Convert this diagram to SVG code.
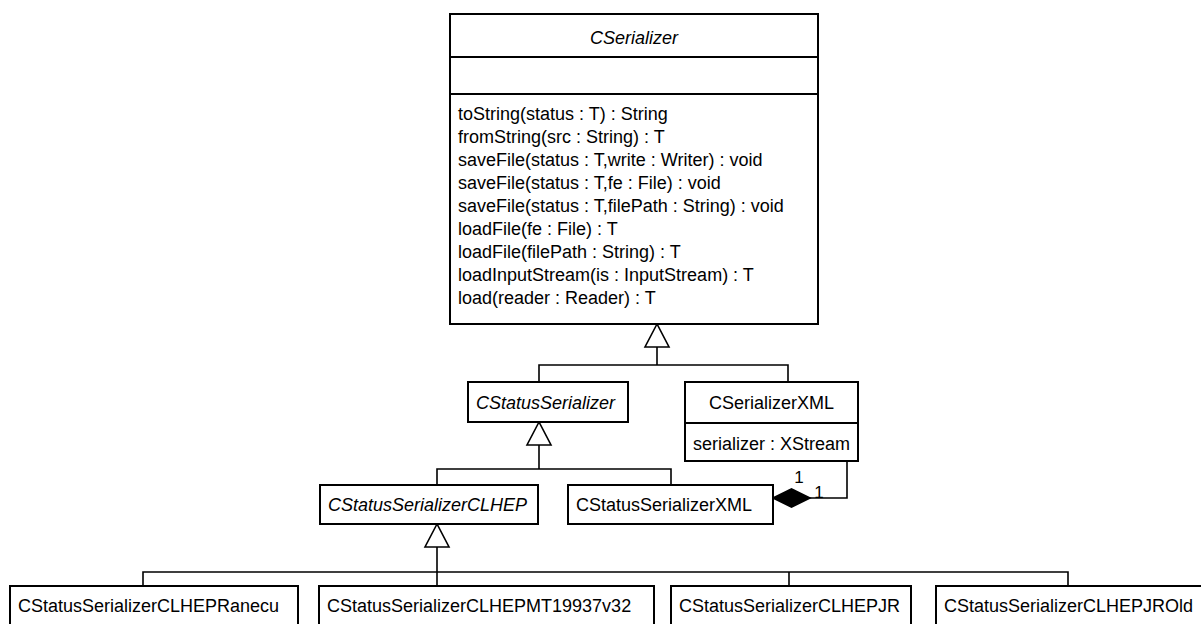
<svg xmlns="http://www.w3.org/2000/svg" width="1201" height="624" viewBox="0 0 1201 624">
<style>
.box{fill:#fff;stroke:#000;stroke-width:2}
.sep{stroke:#000;stroke-width:2}
.t{font-family:"Liberation Sans",Arial,Helvetica,sans-serif;font-size:18px;fill:#000}
.i{font-style:italic}
.m{text-anchor:middle}
.c{fill:none;stroke:#000;stroke-width:1.6}
.tri{fill:#fff;stroke:#000;stroke-width:1.6}
.dia{fill:#000;stroke:#000;stroke-width:1.6}
.lbl{font-family:"Liberation Sans",Arial,Helvetica,sans-serif;font-size:17px;fill:#000;text-anchor:middle}
</style>
<rect width="1201" height="624" fill="#fff"/>
<g id="connectors">
<path class="c" d="M539,382 V365 H788 V382 M657,365 V347"/>
<polygon class="tri" points="657,324 645,347 669,347"/>
<path class="c" d="M437,485 V469 H671 V485 M539,445 V469"/>
<polygon class="tri" points="539,422 527,445 551,445"/>
<path class="c" d="M143,586 V572 H1068 V586 M789,572 V586 M437,547 V586"/>
<polygon class="tri" points="437,524 425,547 449,547"/>
<path class="c" d="M810,498 H847 V461"/>
<polygon class="dia" points="773,498 791.5,489 810,498 791.5,507"/>
<text class="lbl" x="799" y="483">1</text>
<text class="lbl" x="819" y="498">1</text>
</g>
<g id="CSerializer">
<rect class="box" x="450" y="14" width="368" height="310"/>
<line class="sep" x1="450" y1="57" x2="818" y2="57"/>
<line class="sep" x1="450" y1="94" x2="818" y2="94"/>
<text class="t i m" x="634" y="44">CSerializer</text>
<text class="t" x="458" y="120">toString(status : T) : String</text>
<text class="t" x="458" y="143">fromString(src : String) : T</text>
<text class="t" x="458" y="166">saveFile(status : T,write : Writer) : void</text>
<text class="t" x="458" y="189">saveFile(status : T,fe : File) : void</text>
<text class="t" x="458" y="212">saveFile(status : T,filePath : String) : void</text>
<text class="t" x="458" y="235">loadFile(fe : File) : T</text>
<text class="t" x="458" y="258">loadFile(filePath : String) : T</text>
<text class="t" x="458" y="281">loadInputStream(is : InputStream) : T</text>
<text class="t" x="458" y="304">load(reader : Reader) : T</text>
</g>
<g id="CStatusSerializer">
<rect class="box" x="468" y="382" width="160" height="40"/>
<text class="t i" x="476" y="409">CStatusSerializer</text>
</g>
<g id="CSerializerXML">
<rect class="box" x="685" y="382" width="173" height="79"/>
<line class="sep" x1="685" y1="423" x2="858" y2="423"/>
<text class="t m" x="771.5" y="409">CSerializerXML</text>
<text class="t" x="693" y="450">serializer : XStream</text>
</g>
<g id="CStatusSerializerCLHEP">
<rect class="box" x="320" y="485" width="218" height="39"/>
<text class="t i" x="328" y="511">CStatusSerializerCLHEP</text>
</g>
<g id="CStatusSerializerXML">
<rect class="box" x="568" y="485" width="205" height="39"/>
<text class="t" x="576" y="511">CStatusSerializerXML</text>
</g>
<g id="CStatusSerializerCLHEPRanecu">
<rect class="box" x="10" y="586" width="288" height="45"/>
<text class="t" x="18" y="612">CStatusSerializerCLHEPRanecu</text>
</g>
<g id="CStatusSerializerCLHEPMT19937v32">
<rect class="box" x="319" y="586" width="335" height="45"/>
<text class="t" x="327" y="612">CStatusSerializerCLHEPMT19937v32</text>
</g>
<g id="CStatusSerializerCLHEPJR">
<rect class="box" x="671" y="586" width="240" height="45"/>
<text class="t" x="679" y="612">CStatusSerializerCLHEPJR</text>
</g>
<g id="CStatusSerializerCLHEPJROld">
<rect class="box" x="936" y="586" width="268" height="45"/>
<text class="t" x="944" y="612">CStatusSerializerCLHEPJROld</text>
</g>
</svg>
